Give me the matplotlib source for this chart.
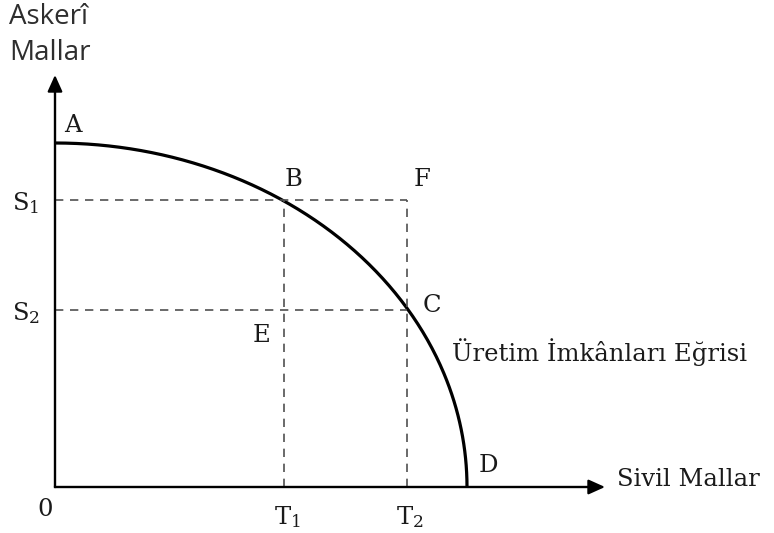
import numpy as np
import matplotlib
matplotlib.use("Agg")
import matplotlib.pyplot as plt

# Data (units relative to origin)
A_y = 344          # intercept on military goods axis (point A)
D_x = 412          # intercept on civil goods axis (point D)
T_vals = [229, 352]   # T1, T2
S_vals = [287, 177]   # S1, S2
t_labels = ["T$_1$", "T$_2$"]
s_labels = ["S$_1$", "S$_2$"]

SERIF = 'DejaVu Serif'
plt.rcParams['mathtext.fontset'] = 'custom'
plt.rcParams['mathtext.rm'] = SERIF
plt.rcParams['mathtext.it'] = SERIF
plt.rcParams['mathtext.default'] = 'rm'

fig = plt.figure(figsize=(7.74, 5.33), dpi=100)
ax = fig.add_axes([0, 0, 1, 1])
ax.set_xlim(-55, 719)
ax.set_ylim(-46, 487)
ax.axis('off')

axis_col = '#404040'
dash_col = '#505050'

# axes with arrows
ax.annotate('', xy=(550, 0), xytext=(0, 0),
            arrowprops=dict(arrowstyle='-|>,head_length=1.0,head_width=0.45', color='black', lw=1.6, shrinkA=0, shrinkB=0))
ax.annotate('', xy=(0, 412), xytext=(0, 0),
            arrowprops=dict(arrowstyle='-|>,head_length=1.0,head_width=0.45', color='black', lw=1.6, shrinkA=0, shrinkB=0))
ax.plot([0, 540], [0, 0], color=axis_col, lw=1.6)
ax.plot([0, 0], [0, 400], color=axis_col, lw=1.6)

# PPF curve
th = np.linspace(0, np.pi / 2, 300)
ax.plot(D_x * np.sin(th), A_y * np.cos(th), color='black', lw=2.3, solid_capstyle='butt')

# dashed guides
dkw = dict(color=dash_col, lw=1.2, dashes=(5, 4))
ax.plot([0, T_vals[1]], [S_vals[0], S_vals[0]], **dkw)
ax.plot([0, T_vals[1]], [S_vals[1], S_vals[1]], **dkw)
ax.plot([T_vals[0], T_vals[0]], [0, S_vals[0]], **dkw)
ax.plot([T_vals[1], T_vals[1]], [0, S_vals[0]], **dkw)

serif = dict(family=SERIF, fontsize=17.5, color='#1a1a1a')
ax.text(18, 362, 'A', ha='center', va='center', **serif)
ax.text(T_vals[0] + 10, S_vals[0] + 20, 'B', ha='center', va='center', **serif)
ax.text(T_vals[1] + 15, S_vals[0] + 20, 'F', ha='center', va='center', **serif)
ax.text(T_vals[1] + 25, S_vals[1] + 4, 'C', ha='center', va='center', **serif)
ax.text(T_vals[0] - 22, S_vals[1] - 25, 'E', ha='center', va='center', **serif)
ax.text(D_x + 21, 22, 'D', ha='center', va='center', **serif)
ax.text(-10, -22, '0', ha='center', va='center', **serif)
for tv, tl in zip(T_vals, t_labels):
    ax.text(tv + 3, -30, tl, ha='center', va='center', **serif)
for sv, sl in zip(S_vals, s_labels):
    ax.text(-29, sv - 3, sl, ha='center', va='center', **serif)
ax.text(397, 135, 'Üretim İmkânları Eğrisi', ha='left', va='center', **serif)
ax.text(562, 8, 'Sivil Mallar', ha='left', va='center', **serif)

sans = dict(family='Open Sans', fontsize=20, color='#2e2e2e')
ax.text(-46, 470, 'Askerî', ha='left', va='center', **sans)
ax.text(-46, 434, 'Mallar', ha='left', va='center', **sans)

fig.savefig('out.png', dpi=100)
